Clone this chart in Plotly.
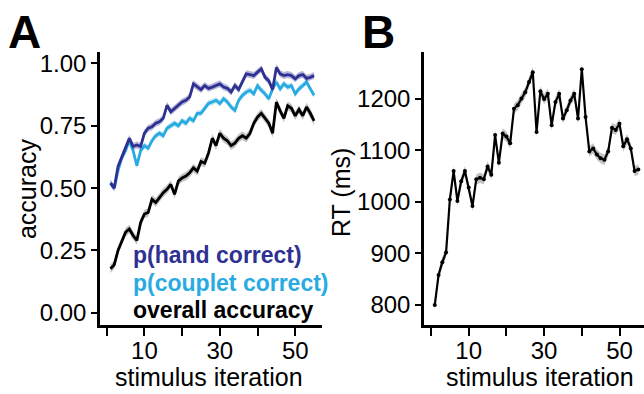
import plotly.graph_objects as go

# ---------------- data ----------------
iteration = list(range(1, 56))

p_hand_correct = [0.52, 0.50, 0.587, 0.627, 0.66, 0.70, 0.667, 0.673, 0.667, 0.72,
                  0.74, 0.746, 0.76, 0.766, 0.78, 0.832, 0.806, 0.82, 0.832, 0.845,
                  0.852, 0.865, 0.918, 0.905, 0.895, 0.911, 0.90, 0.905, 0.911, 0.918,
                  0.905, 0.90, 0.885, 0.911, 0.895, 0.93, 0.958, 0.955, 0.951, 0.965,
                  0.978, 0.944, 0.93, 0.895, 0.984, 0.958, 0.951, 0.955, 0.951, 0.938,
                  0.951, 0.955, 0.94, 0.944, 0.951]

p_couplet_correct = [0.52, 0.50, 0.57, 0.62, 0.65, 0.69, 0.65, 0.59, 0.65, 0.67,
                     0.66, 0.69, 0.71, 0.72, 0.71, 0.74, 0.75, 0.76, 0.75, 0.77,
                     0.76, 0.78, 0.77, 0.80, 0.80, 0.82, 0.84, 0.845, 0.852, 0.839,
                     0.858, 0.845, 0.825, 0.812, 0.852, 0.872, 0.885, 0.892, 0.878, 0.911,
                     0.892, 0.878, 0.858, 0.898, 0.925, 0.898, 0.918, 0.905, 0.911, 0.878,
                     0.898, 0.911, 0.925, 0.898, 0.872]

overall_accuracy = [0.177, 0.193, 0.25, 0.29, 0.323, 0.336, 0.31, 0.29, 0.362, 0.396,
                    0.402, 0.455, 0.442, 0.462, 0.482, 0.495, 0.515, 0.475, 0.528, 0.541,
                    0.548, 0.561, 0.581, 0.568, 0.607, 0.60, 0.64, 0.70, 0.67, 0.72,
                    0.70, 0.69, 0.67, 0.68, 0.70, 0.71, 0.70, 0.72, 0.76, 0.785,
                    0.80, 0.78, 0.76, 0.72, 0.845, 0.81, 0.78, 0.83, 0.82, 0.79,
                    0.815, 0.79, 0.825, 0.80, 0.77]

rt_ms = [800, 858, 883, 902, 1005, 1060, 1002, 1040, 1060, 1028,
         992, 1044, 1047, 1044, 1069, 1053, 1130, 1076, 1133, 1127,
         1114, 1181, 1188, 1201, 1213, 1233, 1252, 1136, 1215, 1200,
         1210, 1149, 1194, 1210, 1162, 1178, 1197, 1210, 1162, 1258,
         1165, 1098, 1104, 1092, 1085, 1082, 1098, 1144, 1140, 1152,
         1108, 1122, 1104, 1060, 1063]

# standard-error half widths of the shaded ribbons
se_hand = 0.014
se_couplet = 0.012
se_overall = 0.017
se_rt = 10

acc_ticks = [0.0, 0.25, 0.5, 0.75, 1.0]
acc_ticklabels = ["0.00", "0.25", "0.50", "0.75", "1.00"]
rt_ticks = [800, 900, 1000, 1100, 1200]
x_ticks = [0, 10, 20, 30, 40, 50]
x_ticklabels = ["", "10", "", "30", "", "50"]

legend_labels = ["p(hand correct)", "p(couplet correct)", "overall accuracy"]

# ---------------- style ----------------
W, H = 644, 394
FONT = "Liberation Sans, Arial, Helvetica, sans-serif"
DARK = "#2E3192"
LIGHT = "#29ABE2"
BLACK = "#000000"


def px_x(p):
    return p / W


def px_y(p):
    return 1 - p / H


fig = go.Figure()


def add_series(x, y, se, color, ribbon, xa, ya, width, marker=False):
    upper = [v + se for v in y]
    lower = [v - se for v in y]
    fig.add_trace(go.Scatter(
        x=list(x) + list(x)[::-1], y=upper + lower[::-1],
        fill="toself", fillcolor=ribbon, line=dict(width=0),
        mode="lines", hoverinfo="skip", showlegend=False,
        xaxis=xa, yaxis=ya))
    fig.add_trace(go.Scatter(
        x=x, y=y, mode="lines+markers" if marker else "lines",
        line=dict(color=color, width=width),
        marker=dict(size=4, color=color),
        showlegend=False, xaxis=xa, yaxis=ya))


add_series(iteration, overall_accuracy, se_overall, BLACK, "rgba(120,120,120,0.45)", "x", "y", 2.8)
add_series(iteration, p_couplet_correct, se_couplet, LIGHT, "rgba(41,171,226,0.35)", "x", "y", 2.8)
add_series(iteration, p_hand_correct, se_hand, DARK, "rgba(46,49,146,0.35)", "x", "y", 2.8)
add_series(iteration, rt_ms, se_rt, BLACK, "rgba(120,120,120,0.45)", "x2", "y2", 2.2, marker=True)

axis_common = dict(
    showline=True, linecolor="black", linewidth=2.5,
    ticks="outside", tickcolor="black", tickwidth=2,
    showgrid=False, zeroline=False,
    tickfont=dict(family=FONT, size=24, color="black"),
)

y_dom = [px_y(325), px_y(50)]

fig.update_layout(
    width=W, height=H,
    margin=dict(l=0, r=0, t=0, b=0),
    paper_bgcolor="white", plot_bgcolor="white",
    showlegend=False,
    xaxis=dict(domain=[px_x(100), px_x(322)], range=[-1.78, 57.1],
               tickvals=x_ticks, ticktext=x_ticklabels, ticklen=9,
               ticklabelstandoff=-6,
               anchor="y", **axis_common),
    yaxis=dict(domain=y_dom, range=[-0.0476, 1.0437],
               tickvals=acc_ticks, ticktext=acc_ticklabels, ticklen=6,
               anchor="x", **axis_common),
    xaxis2=dict(domain=[px_x(424), 1.0], range=[-1.86, 56.5],
                tickvals=x_ticks, ticktext=x_ticklabels, ticklen=9,
                ticklabelstandoff=-6,
                anchor="y2", **axis_common),
    yaxis2=dict(domain=y_dom, range=[761.5, 1290.4],
                tickvals=rt_ticks, ticktext=[str(t) for t in rt_ticks], ticklen=6,
                anchor="x2", **axis_common),
)

ann = []
# panel letters
ann.append(dict(text="<b>A</b>", x=px_x(6), y=px_y(29), xanchor="left", yanchor="middle",
                font=dict(family=FONT, size=46, color="black")))
ann.append(dict(text="<b>B</b>", x=px_x(360), y=px_y(29), xanchor="left", yanchor="middle",
                font=dict(family=FONT, size=46, color="black")))
# axis titles
ann.append(dict(text="accuracy", textangle=-90, x=px_x(27), y=px_y(188),
                xanchor="center", yanchor="middle",
                font=dict(family=FONT, size=25, color="black")))
ann.append(dict(text="RT (ms)", textangle=-90, x=px_x(341), y=px_y(192),
                xanchor="center", yanchor="middle",
                font=dict(family=FONT, size=25, color="black")))
ann.append(dict(text="stimulus iteration", x=px_x(209), y=px_y(378),
                xanchor="center", yanchor="middle",
                font=dict(family=FONT, size=25, color="black")))
ann.append(dict(text="stimulus iteration", x=px_x(540), y=px_y(378),
                xanchor="center", yanchor="middle",
                font=dict(family=FONT, size=25, color="black")))
# legend labels
for lbl, col, yy in zip(legend_labels, [DARK, LIGHT, BLACK], [255, 283, 310]):
    ann.append(dict(text="<b>" + lbl + "</b>", x=px_x(131), y=px_y(yy),
                    xanchor="left", yanchor="middle",
                    font=dict(family=FONT, size=23, color=col)))

for a in ann:
    a.update(xref="paper", yref="paper", showarrow=False)
fig.update_layout(annotations=ann)

fig.write_html("out.html",
               config={"displayModeBar": False},
               post_script="document.body.style.margin='0';document.body.style.overflow='hidden';")
